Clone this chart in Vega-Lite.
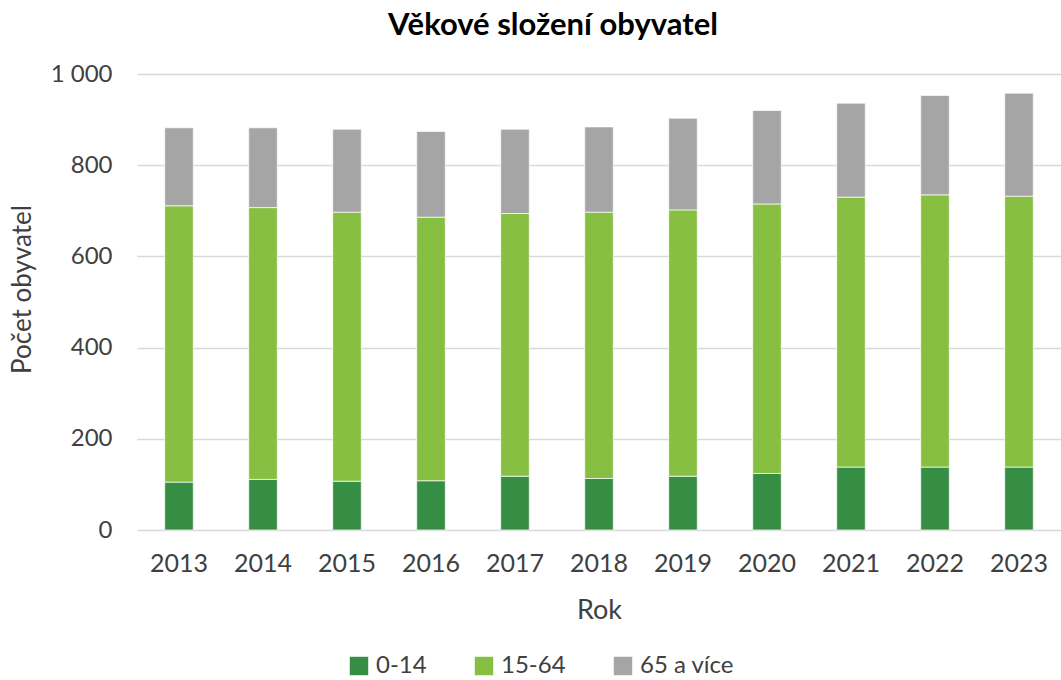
{
  "$schema": "https://vega.github.io/schema/vega-lite/v6.json",
  "autosize": {"type": "none"},
  "width": 924,
  "height": 456,
  "padding": {"left": 137, "top": 74, "right": 0, "bottom": 150},
  "background": "white",
  "title": {
    "text": "Věkové složení obyvatel",
    "font": "Lato",
    "fontSize": 31,
    "fontWeight": "bold",
    "color": "#000000",
    "anchor": "middle",
    "frame": "group",
    "dx": -46,
    "offset": 20
  },
  "data": {
    "values": [
      {"rok": "2013", "skupina": "0-14", "poradi": 1, "pocet": 105},
      {"rok": "2013", "skupina": "15-64", "poradi": 2, "pocet": 606},
      {"rok": "2013", "skupina": "65 a více", "poradi": 3, "pocet": 171},
      {"rok": "2014", "skupina": "0-14", "poradi": 1, "pocet": 111},
      {"rok": "2014", "skupina": "15-64", "poradi": 2, "pocet": 596},
      {"rok": "2014", "skupina": "65 a více", "poradi": 3, "pocet": 175},
      {"rok": "2015", "skupina": "0-14", "poradi": 1, "pocet": 107},
      {"rok": "2015", "skupina": "15-64", "poradi": 2, "pocet": 590},
      {"rok": "2015", "skupina": "65 a více", "poradi": 3, "pocet": 182},
      {"rok": "2016", "skupina": "0-14", "poradi": 1, "pocet": 108},
      {"rok": "2016", "skupina": "15-64", "poradi": 2, "pocet": 578},
      {"rok": "2016", "skupina": "65 a více", "poradi": 3, "pocet": 188},
      {"rok": "2017", "skupina": "0-14", "poradi": 1, "pocet": 118},
      {"rok": "2017", "skupina": "15-64", "poradi": 2, "pocet": 576},
      {"rok": "2017", "skupina": "65 a více", "poradi": 3, "pocet": 185},
      {"rok": "2018", "skupina": "0-14", "poradi": 1, "pocet": 113},
      {"rok": "2018", "skupina": "15-64", "poradi": 2, "pocet": 584},
      {"rok": "2018", "skupina": "65 a více", "poradi": 3, "pocet": 187},
      {"rok": "2019", "skupina": "0-14", "poradi": 1, "pocet": 118},
      {"rok": "2019", "skupina": "15-64", "poradi": 2, "pocet": 584},
      {"rok": "2019", "skupina": "65 a více", "poradi": 3, "pocet": 201},
      {"rok": "2020", "skupina": "0-14", "poradi": 1, "pocet": 124},
      {"rok": "2020", "skupina": "15-64", "poradi": 2, "pocet": 591},
      {"rok": "2020", "skupina": "65 a více", "poradi": 3, "pocet": 205},
      {"rok": "2021", "skupina": "0-14", "poradi": 1, "pocet": 138},
      {"rok": "2021", "skupina": "15-64", "poradi": 2, "pocet": 592},
      {"rok": "2021", "skupina": "65 a více", "poradi": 3, "pocet": 206},
      {"rok": "2022", "skupina": "0-14", "poradi": 1, "pocet": 138},
      {"rok": "2022", "skupina": "15-64", "poradi": 2, "pocet": 597},
      {"rok": "2022", "skupina": "65 a více", "poradi": 3, "pocet": 218},
      {"rok": "2023", "skupina": "0-14", "poradi": 1, "pocet": 138},
      {"rok": "2023", "skupina": "15-64", "poradi": 2, "pocet": 594},
      {"rok": "2023", "skupina": "65 a více", "poradi": 3, "pocet": 226}
    ]
  },
  "mark": {"type": "bar", "stroke": "#ffffff", "strokeWidth": 0.7},
  "encoding": {
    "x": {
      "field": "rok",
      "type": "ordinal",
      "scale": {"paddingInner": 0.66, "paddingOuter": 0.33},
      "axis": {
        "title": "Rok",
        "labelAngle": 0,
        "domain": false,
        "ticks": false,
        "labelFont": "Lato",
        "labelFontSize": 25,
        "labelColor": "#404040",
        "labelPadding": 21,
        "titleFont": "Lato",
        "titleFontSize": 27,
        "titleFontWeight": "normal",
        "titleColor": "#404040",
        "titleY": 80,
        "titleBaseline": "middle"
      }
    },
    "y": {
      "field": "pocet",
      "type": "quantitative",
      "stack": "zero",
      "scale": {"domain": [0, 1000], "nice": false},
      "axis": {
        "title": "Počet obyvatel",
        "values": [0, 200, 400, 600, 800, 1000],
        "labelExpr": "replace(format(datum.value, ','), ',', ' ')",
        "domain": false,
        "ticks": false,
        "grid": true,
        "gridColor": "#d9d9d9",
        "gridWidth": 1.3,
        "labelFont": "Lato",
        "labelFontSize": 24,
        "labelColor": "#404040",
        "labelPadding": 25,
        "titleFont": "Lato",
        "titleFontSize": 26,
        "titleFontWeight": "normal",
        "titleColor": "#404040",
        "titleX": -102,
        "titleY": 215
      }
    },
    "color": {
      "field": "skupina",
      "type": "nominal",
      "scale": {
        "domain": ["0-14", "15-64", "65 a více"],
        "range": ["#368e44", "#86bf41", "#a5a5a5"]
      },
      "legend": {
        "title": null,
        "orient": "none",
        "direction": "horizontal",
        "legendX": 210,
        "legendY": 580,
        "symbolType": "square",
        "symbolSize": 340,
        "symbolStrokeWidth": 0,
        "labelFont": "Lato",
        "labelFontSize": 24,
        "labelColor": "#404040",
        "labelOffset": 5,
        "labelLimit": 300,
        "columnPadding": 45
      }
    },
    "order": {"field": "poradi", "type": "quantitative"}
  },
  "config": {
    "view": {"stroke": null}
  }
}
